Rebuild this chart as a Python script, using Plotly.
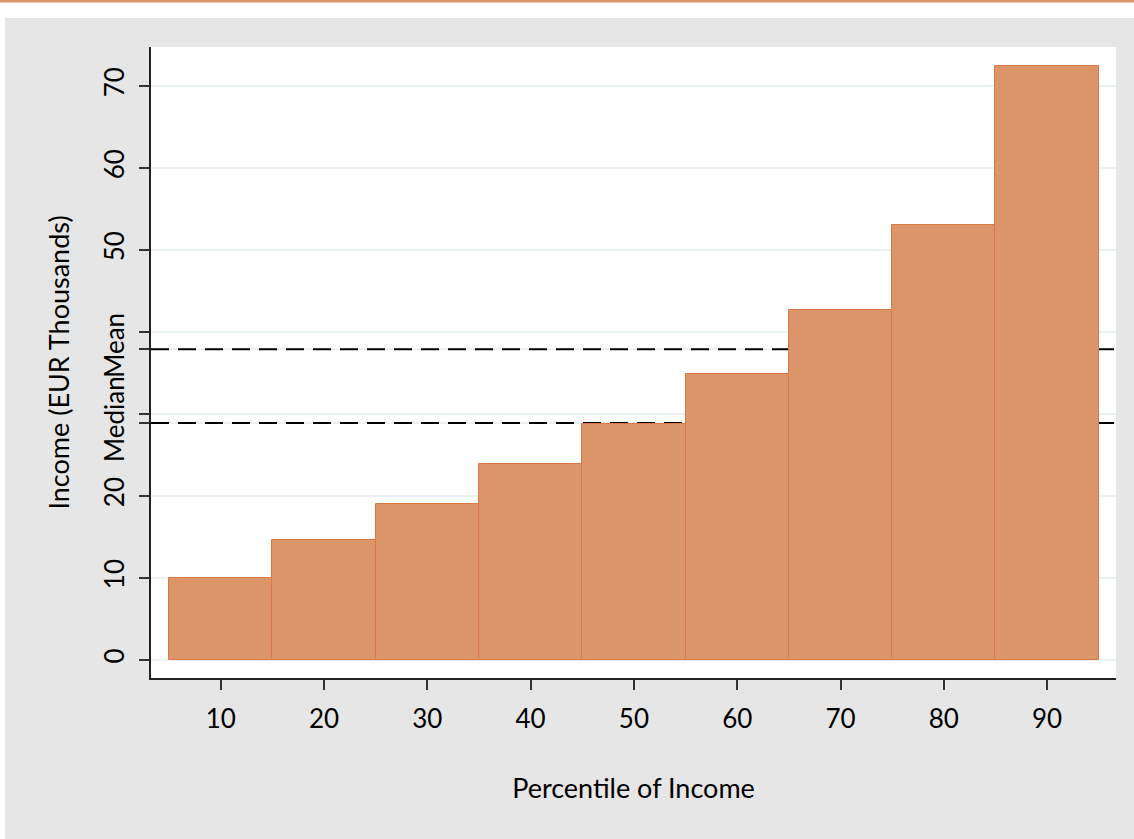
import plotly.graph_objects as go

percentiles = [10, 20, 30, 40, 50, 60, 70, 80, 90]
income = [10.0, 14.6, 19.0, 23.9, 28.8, 34.9, 42.7, 53.0, 72.4]
median_income = 28.9
mean_income = 37.9
ytick_vals = [0, 10, 20, 30, 40, 50, 60, 70]
ytick_text = ["0", "10", "20", "", "", "50", "60", "70"]

FONT = "Lato"
BAR_FILL = "#dc9569"
BAR_EDGE = "#d97a45"
GRID = "#e9f1f3"
BG = "#e6e6e6"

X_RANGE = [3.25, 96.67]
Y_RANGE = [-2.2, 74.76]

fig = go.Figure()
fig.add_trace(go.Bar(
    x=percentiles, y=income, width=10,
    marker=dict(color=BAR_FILL, line=dict(color=BAR_EDGE, width=1)),
    showlegend=False, hoverinfo="x+y",
))

# reference lines (above grid, behind bars)
for v in (median_income, mean_income):
    fig.add_shape(type="line", xref="x", yref="y", x0=X_RANGE[0], x1=X_RANGE[1], y0=v, y1=v,
                  line=dict(color="black", width=2, dash="18px,9px"), layer="between")

W, H = 1134, 839
L, R, T, B = 151, 18, 47, 161
pw, ph = W - L - R, H - T - B

def px2paper_x(px):
    return (px - L) / pw

def px2paper_y(py):
    return (H - B - py) / ph

# white top band and left strip outside the gray frame
fig.add_shape(type="rect", xref="paper", yref="paper",
              x0=px2paper_x(-5), x1=px2paper_x(1140), y0=px2paper_y(18), y1=px2paper_y(-5),
              fillcolor="white", line=dict(width=0), layer="below")
fig.add_shape(type="rect", xref="paper", yref="paper",
              x0=px2paper_x(-5), x1=px2paper_x(5), y0=px2paper_y(845), y1=px2paper_y(18),
              fillcolor="white", line=dict(width=0), layer="below")
# top orange stripe
fig.add_shape(type="rect", xref="paper", yref="paper",
              x0=px2paper_x(-5), x1=px2paper_x(1140), y0=px2paper_y(2.5), y1=px2paper_y(-2),
              fillcolor=BAR_FILL, line=dict(width=0), layer="above")

fig.update_layout(
    width=W, height=H,
    margin=dict(l=L, r=R, t=T, b=B, pad=0),
    paper_bgcolor=BG,
    plot_bgcolor="white",
    font=dict(family=FONT, size=26, color="black"),
    bargap=0,
    xaxis=dict(
        range=X_RANGE,
        tickvals=percentiles,
        ticks="outside", ticklen=10, tickwidth=1.5, tickcolor="#333",
        showline=True, linecolor="#222", linewidth=1.5,
        showgrid=False, zeroline=False,
        ticklabelstandoff=7,
        title=dict(text="Percentile of Income", standoff=46, font=dict(size=27)),
    ),
    yaxis=dict(
        range=Y_RANGE,
        tickvals=ytick_vals + [median_income, mean_income],
        ticktext=ytick_text + ["Median", "Mean"],
        tickangle=-90,
        ticks="outside", ticklen=10, tickwidth=1.5, tickcolor="#333",
        showline=True, linecolor="#222", linewidth=1.5,
        showgrid=True, gridcolor=GRID, gridwidth=2,
        zeroline=False,
        ticklabelstandoff=5,
        title=dict(text="Income (EUR Thousands)", standoff=20, font=dict(size=27)),
    ),
)

fig.write_html("out.html", post_script="document.body.style.margin='0';",
               config={"displayModeBar": False})
